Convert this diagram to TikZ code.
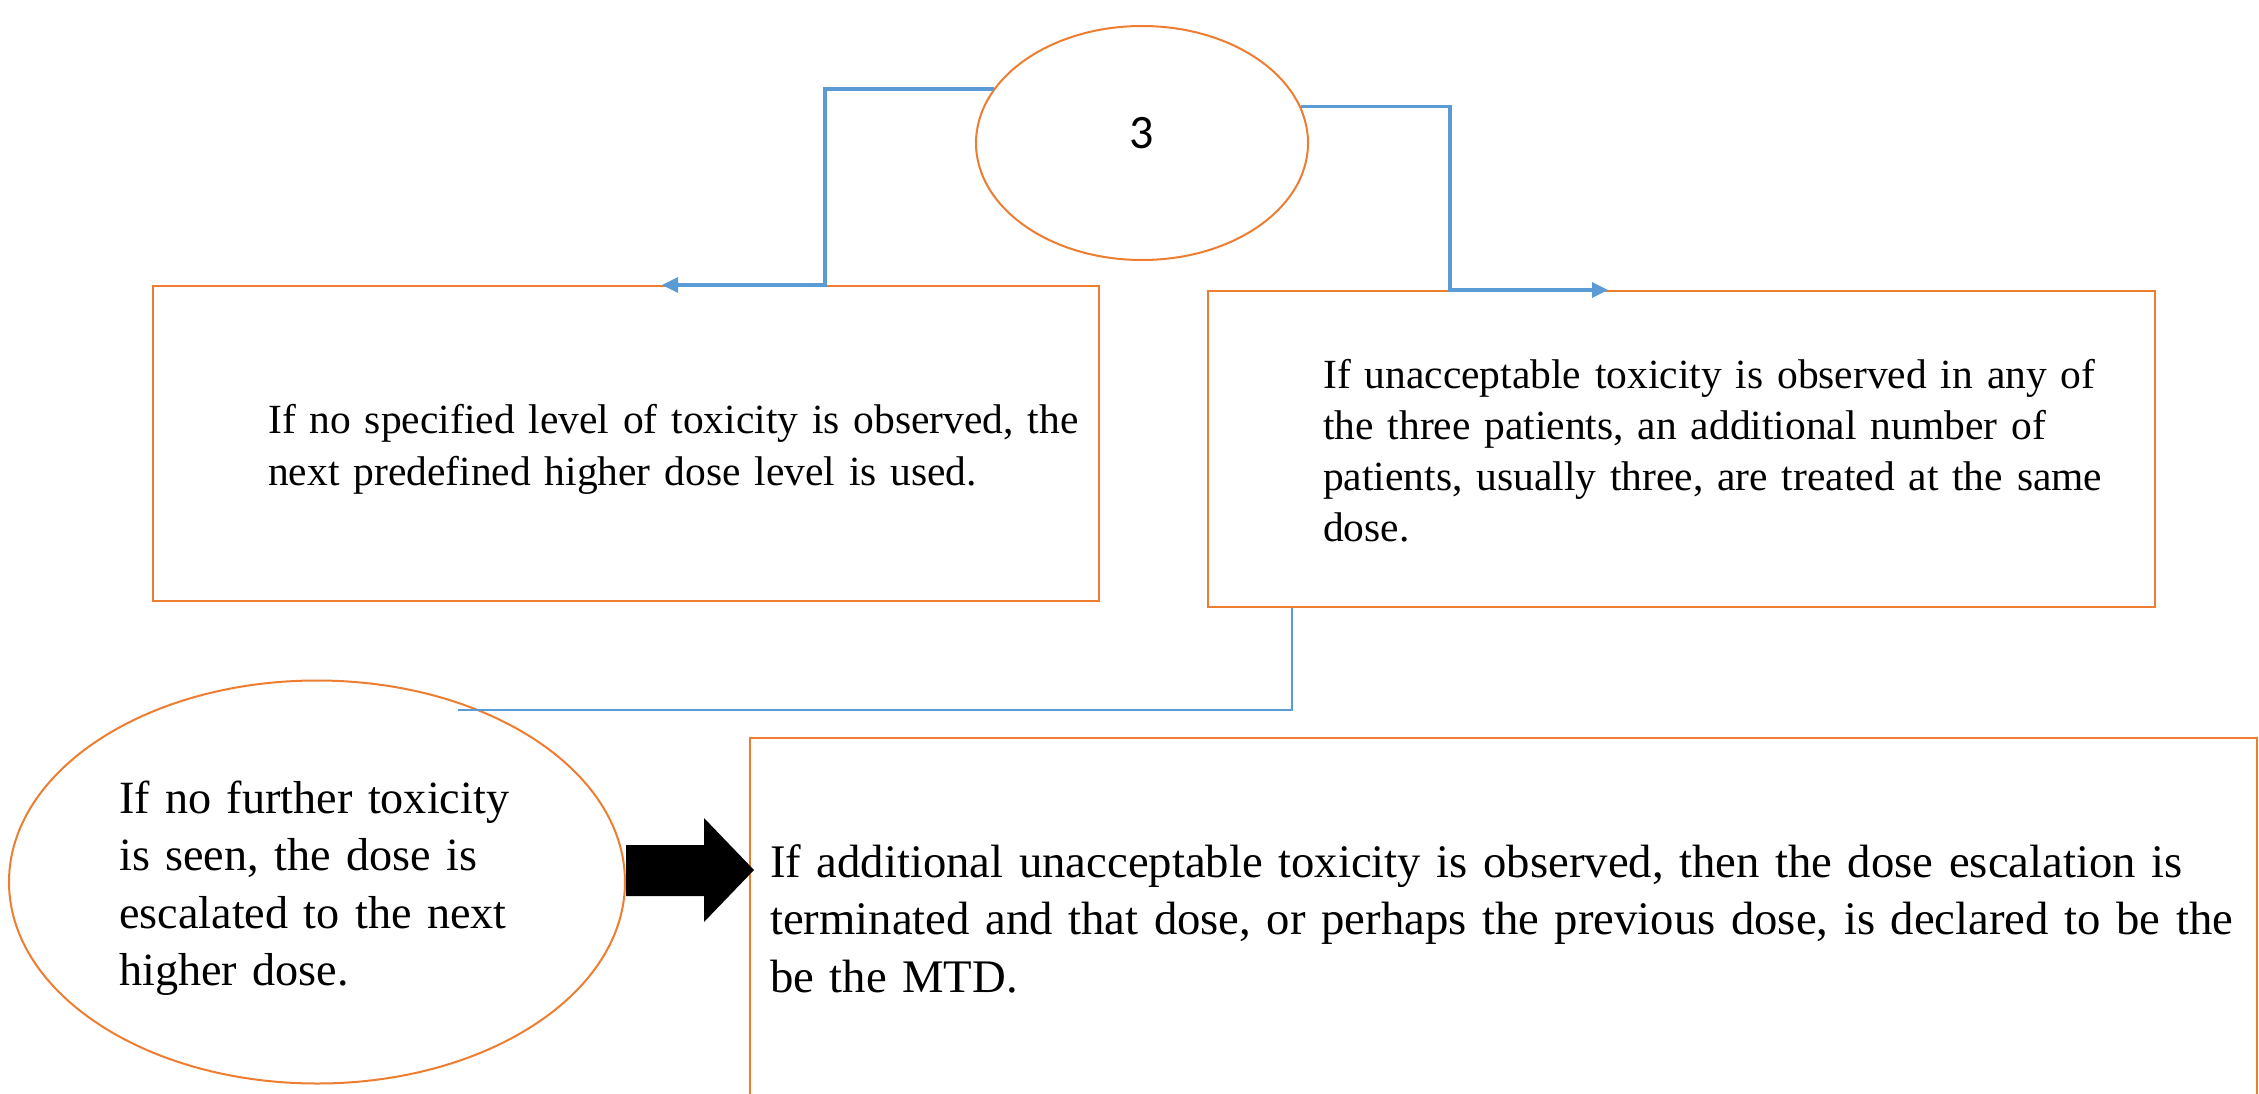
\documentclass[tikz,border=0pt]{standalone}
\usepackage{fontspec}
\setmainfont{Liberation Serif}
\newfontfamily\calibrifont{Carlito}
\usetikzlibrary{arrows.meta,shapes.geometric,calc}

\definecolor{boxorange}{HTML}{ED7D31}
\definecolor{linkblue}{HTML}{5B9BD5}

% serif text at a given size and leading
\newcommand\serifat[2]{\fontsize{#1}{#2}\selectfont}

\tikzset{
  outline/.style={draw=boxorange, line width=2pt, fill=none, inner sep=0pt},
  rectbox/.style={outline, rectangle},
  ovalbox/.style={outline, ellipse},
  bodytext/.style={inner sep=0pt, anchor=base west, align=left, text width=#1},
  conn/.style={draw=linkblue, line width=3.3pt,
    -{Triangle[length=16pt,width=15pt]}},
  thinconn/.style={draw=linkblue, line width=1.3pt},
}

\begin{document}
\begin{tikzpicture}[x=1pt, y=-1pt]
  \useasboundingbox (0,0) rectangle (2259,1094);

  % shapes
  \node[ovalbox, minimum width=332pt, minimum height=234pt] (e3) at (1142,143) {};
  \node[inner sep=0pt, anchor=base, font=\calibrifont\fontsize{48}{56}\selectfont] (n3) at (1142,149) {3};

  \node[rectbox, minimum width=946pt, minimum height=315pt] (lbox) at (626,443.5) {};
  \node[rectbox, minimum width=947pt, minimum height=316pt] (rbox) at (1681.5,449) {};
  \node[ovalbox, minimum width=616pt, minimum height=403pt] (bell) at (317,882) {};
  \node[rectbox, minimum width=1507pt, minimum height=382pt] (mbox) at (1503.5,929) {};

  % texts
  \node[bodytext=900pt, font=\serifat{41.5}{52}] (tl) at (268,433)
    {If no specified level of toxicity is observed, the\\
     next predefined higher dose level is used.};
  \node[bodytext=900pt, font=\serifat{41.5}{51.3}] (tr) at (1323,388)
    {If unacceptable toxicity is observed in any of\\
     the three patients, an additional number of\\
     patients, usually three, are treated at the same\\
     dose.};
  \node[bodytext=500pt, font=\serifat{46.2}{57.6}] (tb) at (119,813)
    {If no further toxicity\\
     is seen, the dose is\\
     escalated to the next\\
     higher dose.};
  \node[bodytext=1480pt, font=\serifat{46.7}{57.5}] (tm) at (770,877)
    {If additional unacceptable toxicity is observed, then the dose escalation is\\
     terminated and that dose, or perhaps the previous dose, is declared to be the\\
     be the MTD.};

  % connectors from the top ellipse
  \draw[conn] (e3.160) -| (825,0 |- lbox.north) -- (662,0 |- lbox.north);
  \draw[conn] (e3.13) -| (1450,0 |- rbox.north) -- (1608,0 |- rbox.north);

  % thin link below the right box
  \coordinate (lend) at (458,710);
  \draw[thinconn] (1292,0 |- rbox.south) |- (lend);

  % block arrow from the ellipse to the wide box
  \fill[black] (bell.east |- 0,845) -- (704,845) -- (704,818)
    -- ($(mbox.west |- 0,870)+(5,0)$) -- (704,922) -- (704,896)
    -- (bell.east |- 0,896) -- cycle;
\end{tikzpicture}
\end{document}
